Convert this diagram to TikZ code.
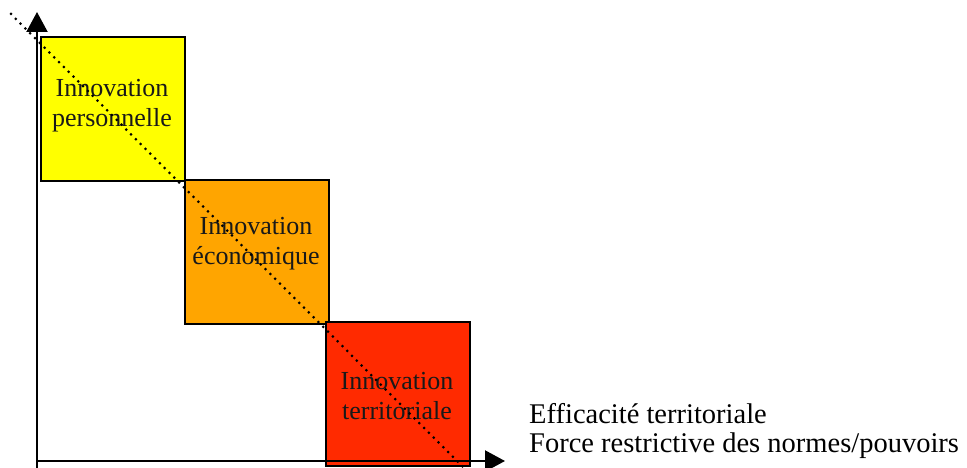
\documentclass[tikz,border=0pt]{standalone}
\usepackage{fontspec}
\setmainfont{Liberation Serif}
\usetikzlibrary{arrows.meta}
\definecolor{cyellow}{HTML}{FFFF00}
\definecolor{corange}{HTML}{FFA500}
\definecolor{cred}{HTML}{FF2A00}
\tikzset{
  boxsq/.style={draw=black, line width=2.2pt, minimum width=144pt, minimum height=144pt, inner sep=0pt, anchor=north west},
  boxtxt/.style={font=\fontsize{26}{30}\selectfont, align=center, inner sep=0pt, text=black!90},
  axisline/.style={line width=2.2pt, -{Triangle[length=20pt,width=21pt]}},
  diag/.style={line width=3pt, line cap=round, dash pattern=on 0pt off 6.8pt},
  lbl/.style={font=\fontsize{28.5}{30}\selectfont, align=left, inner sep=0pt, anchor=base west}
}
\begin{document}
\begin{tikzpicture}[x=1pt,y=-1pt]
\useasboundingbox (0,0) rectangle (967,468);
% boxes
\node[boxsq, fill=cyellow] (b1) at (40,36) {};
\node[boxsq, fill=corange] (b2) at (184,179) {};
\node[boxsq, fill=cred] (b3) at (325,321) {};
% axes
\coordinate (ybot) at (37,470);
\coordinate (ytip) at (37,12);
\coordinate (xorg) at (37,461);
\coordinate (xtip) at (505,461);
\draw[axisline] (ybot) -- (ytip);
\draw[axisline] (xorg) -- (xtip);
% texts
\node[boxtxt] (t1) at (112,106) {Innovation\\personnelle};
\node[boxtxt] (t2) at (256,244) {Innovation\\économique};
\node[boxtxt] (t3) at (397,396) {Innovation\\territoriale};
% dotted diagonal
\coordinate (d1) at (11,14);
\coordinate (d2) at (463,467);
\draw[diag] (d1) -- (d2);
% labels
\node[lbl] (l1) at (529,423) {Efficacité territoriale};
\node[lbl] (l2) at (529,452) {Force restrictive des normes/pouvoirs};
\end{tikzpicture}
\end{document}
